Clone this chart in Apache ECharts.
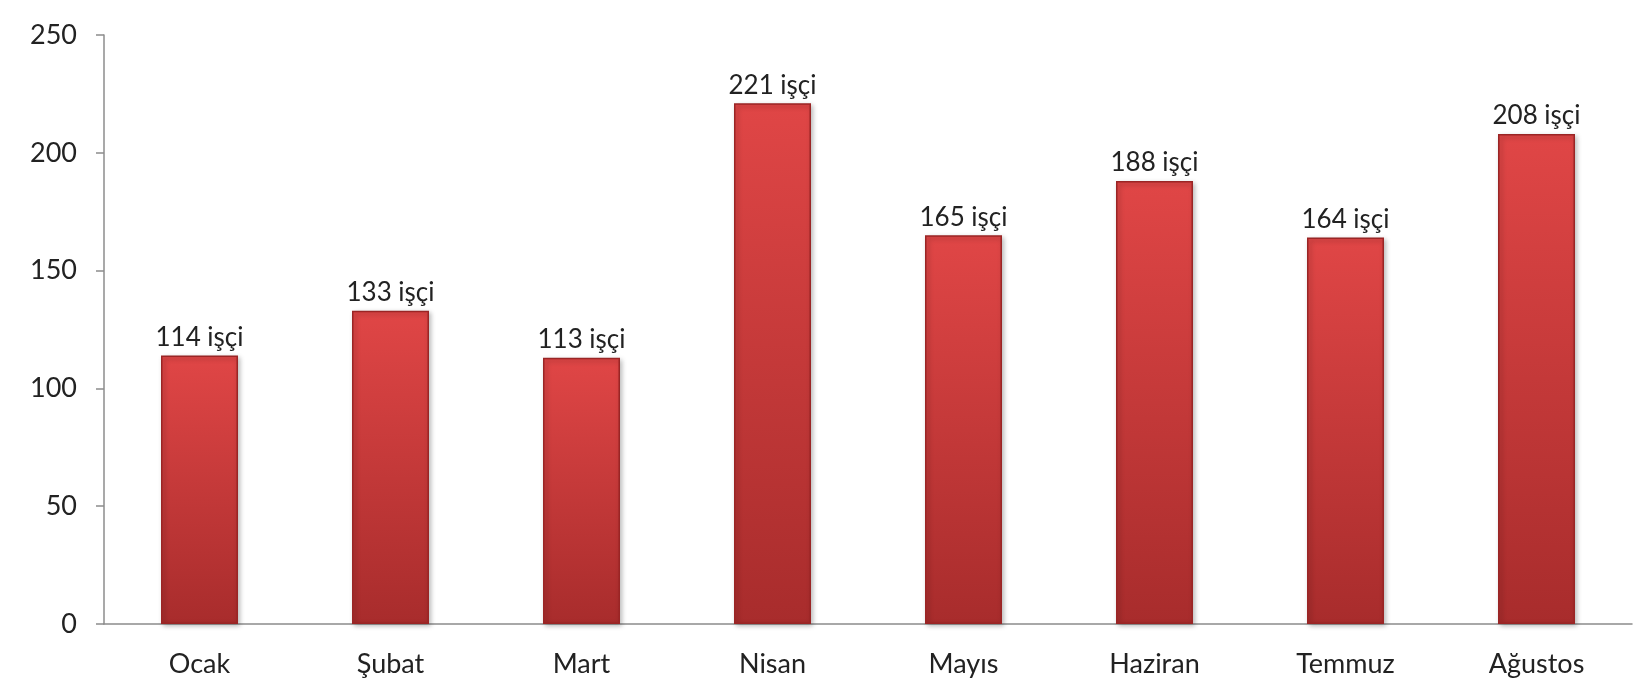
<!DOCTYPE html>
<html>
<head>
<meta charset="utf-8">
<script src="https://cdn.jsdelivr.net/npm/echarts@6/dist/echarts.min.js"></script>
<style>
  html, body { margin: 0; padding: 0; background: #fff; }
  #main { width: 1637px; height: 698px; }
</style>
</head>
<body>
<div id="main"></div>
<script>
var months = ['Ocak', 'Şubat', 'Mart', 'Nisan', 'Mayıs', 'Haziran', 'Temmuz', 'Ağustos'];
var workers = [114, 133, 113, 221, 165, 188, 164, 208];
var yTicks = [0, 50, 100, 150, 200, 250];

var myChart = echarts.init(document.getElementById('main'));

myChart.setOption({
    textStyle: { fontFamily: 'Lato, "Open Sans", sans-serif' },
    grid: { left: 104, right: 5, top: 35, bottom: 74 },
    xAxis: {
        type: 'category',
        data: months,
        axisLine: { lineStyle: { color: '#8c8c8c', width: 1.5 } },
        axisTick: { alignWithLabel: false, length: 9, lineStyle: { color: '#8c8c8c', width: 1.5 } },
        axisLabel: { color: '#222', fontSize: 27, margin: 27 }
    },
    yAxis: {
        type: 'value',
        min: yTicks[0],
        max: yTicks[yTicks.length - 1],
        interval: 50,
        splitLine: { show: false },
        axisLine: { show: true, lineStyle: { color: '#8c8c8c', width: 1.5 } },
        axisTick: { show: true, length: 8, lineStyle: { color: '#8c8c8c', width: 1.5 } },
        axisLabel: { color: '#222', fontSize: 27, margin: 27 }
    },
    series: [
        {
            type: 'bar',
            data: workers,
            barWidth: 77,
            itemStyle: {
                color: new echarts.graphic.LinearGradient(0, 0, 0, 1, [
                    { offset: 0, color: '#e04646' },
                    { offset: 1, color: '#a82c2c' }
                ]),
                borderColor: '#9a2525',
                borderWidth: 1.5,
                shadowColor: 'rgba(0,0,0,0.3)',
                shadowBlur: 5,
                shadowOffsetX: 2,
                shadowOffsetY: 2
            },
            label: {
                show: true,
                position: 'top',
                distance: 5,
                color: '#222',
                fontSize: 26,
                formatter: '{c} işçi'
            }
        }
    ]
});
</script>
</body>
</html>
